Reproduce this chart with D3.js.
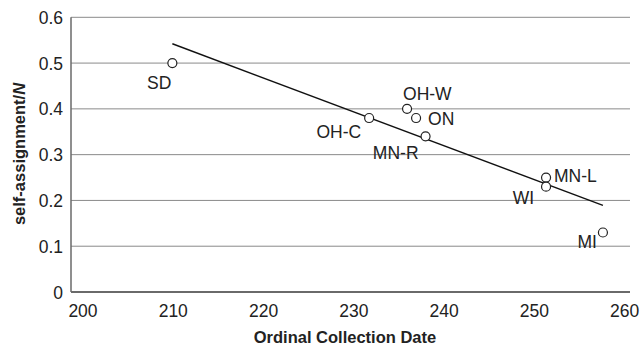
<!DOCTYPE html>
<html><head><meta charset="utf-8">
<script src="https://cdn.jsdelivr.net/npm/d3@7"></script>
<style>
html,body{margin:0;padding:0;background:#fff;}
svg{display:block;font-family:"Liberation Sans",Arial,Helvetica,sans-serif;}
</style></head>
<body>
<svg id="chart" width="641" height="349"></svg>
<script>
const sites = ["SD","OH-C","OH-W","ON","MN-R","MN-L","WI","MI"];
const dates = [209.9, 231.7, 235.9, 236.9, 237.95, 251.3, 251.3, 257.6];
const selfAssign = [0.50, 0.38, 0.40, 0.38, 0.34, 0.25, 0.23, 0.13];
const xTicks = [200, 210, 220, 230, 240, 250, 260];
const yTicks = [0, 0.1, 0.2, 0.3, 0.4, 0.5, 0.6];
const yTickLabels = ["0", "0.1", "0.2", "0.3", "0.4", "0.5", "0.6"];
// label placement: [dx, dy, anchor]
const labelPos = {
  "SD":   [-1, 26, "end"],
  "OH-C": [-8, 20, "end"],
  "OH-W": [-4, -9, "start"],
  "ON":   [12, 7, "start"],
  "MN-R": [-7, 23, "end"],
  "MN-L": [8, 4.5, "start"],
  "WI":   [-12, 17.5, "end"],
  "MI":   [-6, 15.5, "end"]
};

const svg = d3.select("#chart");
const x = d3.scaleLinear().domain([198.67, 260.6]).range([71, 630]);
const y = d3.scaleLinear().domain([0, 0.6]).range([292, 17.3]);

// gridlines
svg.append("g").selectAll("line").data(yTicks.filter(d => d > 0)).join("line")
  .attr("x1", x.range()[0]).attr("x2", x.range()[1])
  .attr("y1", d => y(d)).attr("y2", d => y(d))
  .attr("stroke", "#8a8a8a").attr("stroke-width", 1);

// axes lines
svg.append("line").attr("x1", 71).attr("x2", 71).attr("y1", y(0.6)).attr("y2", y(0))
  .attr("stroke", "#6a6a6a").attr("stroke-width", 1.5);
svg.append("line").attr("x1", x.range()[0]).attr("x2", x.range()[1]).attr("y1", y(0)).attr("y2", y(0))
  .attr("stroke", "#6a6a6a").attr("stroke-width", 2);

// y tick labels
svg.append("g").selectAll("text").data(yTicks).join("text")
  .attr("x", 63).attr("y", d => y(d) + 6.5)
  .attr("text-anchor", "end").attr("font-size", 17.5).attr("fill", "#222")
  .text((d, i) => yTickLabels[i]);

// x tick labels
svg.append("g").selectAll("text").data(xTicks).join("text")
  .attr("x", d => x(d)).attr("y", 317)
  .attr("text-anchor", "middle").attr("font-size", 17.5).attr("fill", "#222")
  .text(d => d);

// axis titles
svg.append("text").attr("x", 345).attr("y", 343)
  .attr("text-anchor", "middle").attr("font-size", 16.5).attr("font-weight", "bold").attr("fill", "#222")
  .text("Ordinal Collection Date");
const yt = svg.append("text").attr("transform", "translate(25,154) rotate(-90)")
  .attr("text-anchor", "middle").attr("font-size", 16.5).attr("font-weight", "bold").attr("fill", "#222");
yt.append("tspan").text("self-assignment/");
yt.append("tspan").attr("font-style", "italic").text("N");

// regression line
const n = dates.length;
const mx = d3.mean(dates), my = d3.mean(selfAssign);
let sxy = 0, sxx = 0;
for (let i = 0; i < n; i++) { sxy += (dates[i]-mx)*(selfAssign[i]-my); sxx += (dates[i]-mx)**2; }
const slope = sxy / sxx, icpt = my - slope * mx;
const x0 = d3.min(dates), x1 = d3.max(dates);
svg.append("line")
  .attr("x1", x(x0)).attr("y1", y(icpt + slope * x0))
  .attr("x2", x(x1)).attr("y2", y(icpt + slope * x1))
  .attr("stroke", "#111").attr("stroke-width", 1.4);

// points
const pts = sites.map((s, i) => ({s, d: dates[i], v: selfAssign[i]}));
svg.append("g").selectAll("circle").data(pts).join("circle")
  .attr("cx", d => x(d.d)).attr("cy", d => y(d.v)).attr("r", 4.5)
  .attr("fill", "#fff").attr("stroke", "#222").attr("stroke-width", 1.2);

// labels
svg.append("g").selectAll("text").data(pts).join("text")
  .attr("x", d => x(d.d) + labelPos[d.s][0])
  .attr("y", d => y(d.v) + labelPos[d.s][1])
  .attr("text-anchor", d => labelPos[d.s][2])
  .attr("font-size", 17.5).attr("fill", "#222")
  .text(d => d.s);
</script>
</body></html>
